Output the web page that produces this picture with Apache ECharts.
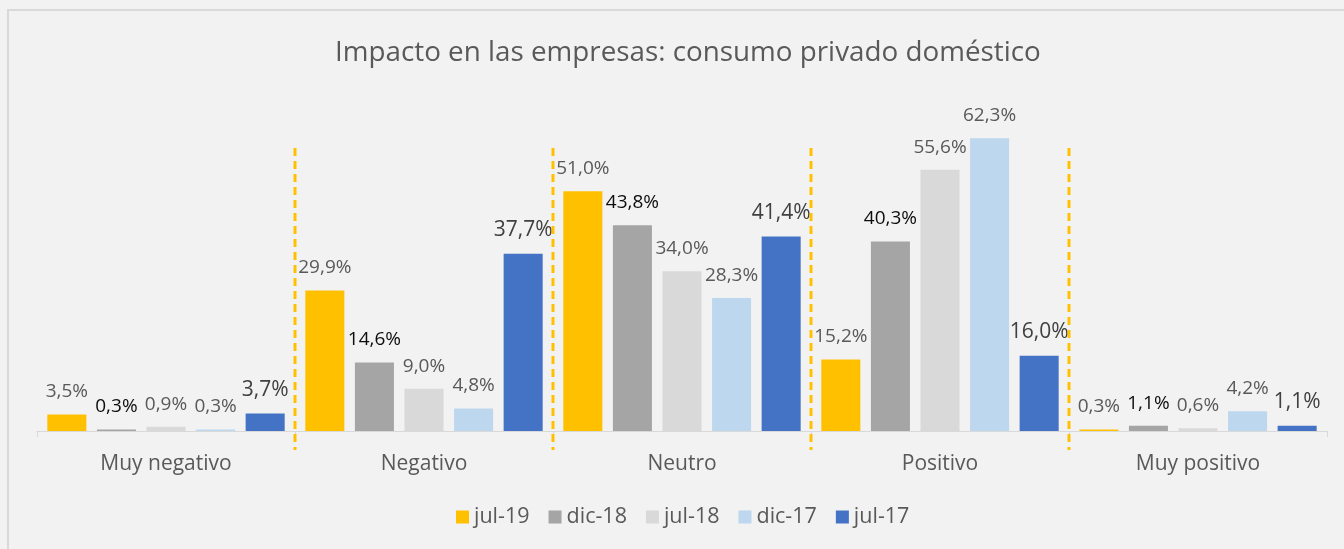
<!DOCTYPE html>
<html>
<head>
<meta charset="utf-8">
<script src="https://cdn.jsdelivr.net/npm/echarts@6/dist/echarts.min.js"></script>
<style>
  html, body { margin: 0; padding: 0; background: #f2f2f2; }
  .frame {
    position: absolute; left: 7px; top: 9px; width: 1400px; height: 600px;
    border-left: 2px solid #d9d9d9; border-top: 2px solid #d9d9d9;
  }
  #main { position: absolute; left: 0; top: 0; width: 1344px; height: 549px; }
</style>
</head>
<body>
<div class="frame"></div>
<div id="main"></div>
<script>
// categorias y series (valores en %)
const categories = ['Muy negativo', 'Negativo', 'Neutro', 'Positivo', 'Muy positivo']
const seriesNames = ['jul-19', 'dic-18', 'jul-18', 'dic-17', 'jul-17']
const jul19 = [3.5, 29.9, 51.0, 15.2, 0.3]
const dic18 = [0.3, 14.6, 43.8, 40.3, 1.1]
const jul18 = [0.9, 9.0, 34.0, 55.6, 0.6]
const dic17 = [0.3, 4.8, 28.3, 62.3, 4.2]
const jul17 = [3.7, 37.7, 41.4, 16.0, 1.1]

const colors = ['#FFC000', '#A5A5A5', '#D9D9D9', '#BDD7EE', '#4472C4']
const labelColors = ['#595959', '#0d0d0d', '#595959', '#595959', '#404040']
const labelSizes = [19, 19, 19, 19, 21]
const font = '"Open Sans", "Noto Sans", sans-serif'

const chart = echarts.init(document.getElementById('main'))

/** 生成柱状系列 */
function makeSeries(name, data, i) {
  return {
    name,
    type: 'bar',
    data,
    barGap: '27%',
    barCategoryGap: '8%',
    itemStyle: { color: colors[i] },
    label: {
      show: true,
      position: 'top',
      distance: 13,
      color: labelColors[i],
      fontSize: labelSizes[i],
      fontFamily: font,
      formatter: (p) => p.value.toFixed(1).replace('.', ',') + '%',
    },
  }
}

const option = {
  animation: false,
  backgroundColor: 'transparent',
  title: {
    text: 'Impacto en las empresas: consumo privado doméstico',
    left: 330,
    top: 34,
    textStyle: { color: '#595959', fontSize: 27.8, fontWeight: 'normal', fontFamily: font },
  },
  legend: {
    data: seriesNames,
    top: 501,
    left: 451,
    itemWidth: 13,
    itemHeight: 13,
    itemGap: 19,
    icon: 'rect',
    textStyle: { color: '#595959', fontSize: 21.5, fontFamily: font },
  },
  grid: { left: 37, right: 17, top: 102, bottom: 118 },
  xAxis: {
    type: 'category',
    data: categories,
    axisLine: { show: true, lineStyle: { color: '#d9d9d9', width: 1 } },
    axisTick: { show: true, length: 6, lineStyle: { color: '#d9d9d9' } },
    axisLabel: { color: '#595959', fontSize: 21, fontFamily: font, margin: 23 },
  },
  yAxis: {
    type: 'value',
    min: 0,
    max: 70,
    show: false,
    splitLine: { show: false },
  },
  series: [
    makeSeries(seriesNames[0], jul19, 0),
    makeSeries(seriesNames[1], dic18, 1),
    makeSeries(seriesNames[2], jul18, 2),
    makeSeries(seriesNames[3], dic17, 3),
    makeSeries(seriesNames[4], jul17, 4),
  ],
}

chart.setOption(option)

// lineas discontinuas entre categorias
const sepLines = []
for (let i = 1; i < categories.length; i++) {
  const a = chart.convertToPixel({ xAxisIndex: 0 }, i - 1)
  const b = chart.convertToPixel({ xAxisIndex: 0 }, i)
  const x = Math.round((a + b) / 2)
  sepLines.push({
    type: 'line',
    shape: { x1: x, y1: 148, x2: x, y2: 450 },
    style: { stroke: '#FFC000', lineWidth: 3, lineDash: [8, 5] },
    z: 10,
  })
}
chart.setOption({ graphic: sepLines })
</script>
</body>
</html>
